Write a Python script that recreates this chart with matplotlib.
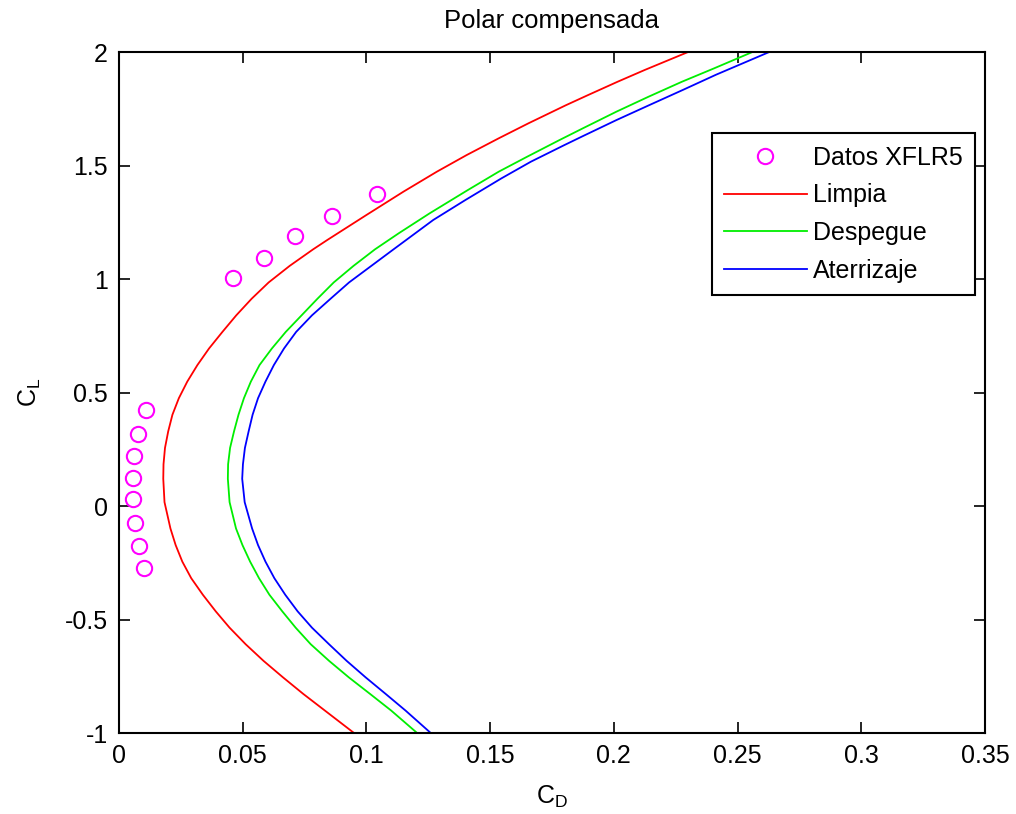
import matplotlib
matplotlib.use("Agg")
import matplotlib.pyplot as plt

# XFLR5 points
xflr_cd = [0.0109, 0.0077, 0.0061, 0.0057, 0.0057, 0.0065, 0.0081, 0.0101,
           0.0461, 0.0586, 0.0711, 0.0861, 0.1043]
xflr_cl = [0.423, 0.317, 0.220, 0.123, 0.031, -0.075, -0.176, -0.273,
           1.004, 1.0925, 1.189, 1.278, 1.374]

# polars
limpia_cl = [-1.0, -0.901, -0.828, -0.755, -0.682, -0.609, -0.536, -0.464, -0.391, -0.318,
             -0.245, -0.172, -0.099, 0.017, 0.12, 0.184, 0.256, 0.329, 0.402, 0.475,
             0.548, 0.621, 0.694, 0.767, 0.84, 0.913, 0.985, 1.058, 1.131, 1.172,
             1.282, 1.385, 1.473, 1.546, 1.62, 1.686, 1.765, 1.81, 1.869, 1.921, 2.0]
limpia_cd = [0.0950, 0.0832, 0.0745, 0.0663, 0.0584, 0.0512, 0.0447, 0.0391, 0.0339, 0.0292,
             0.0256, 0.0229, 0.0208, 0.0184, 0.0179, 0.0180, 0.0186, 0.0199, 0.0216, 0.0242,
             0.0276, 0.0317, 0.0364, 0.0418, 0.0474, 0.0536, 0.0605, 0.0690, 0.0785, 0.0842,
             0.1000, 0.1150, 0.1285, 0.1405, 0.1535, 0.1655, 0.1805, 0.1895, 0.2015, 0.2125, 0.2300]

despegue_cl = [-1.0, -0.901, -0.828, -0.755, -0.682, -0.609, -0.536, -0.464, -0.391, -0.318,
               -0.245, -0.172, -0.099, 0.017, 0.12, 0.184, 0.256, 0.329, 0.402, 0.475,
               0.548, 0.621, 0.694, 0.767, 0.84, 0.913, 0.985, 1.058, 1.131, 1.201,
               1.289, 1.392, 1.473, 1.539, 1.612, 1.664, 1.737, 1.803, 1.869, 1.928, 2.0]
despegue_cd = [0.1205, 0.1100, 0.1015, 0.0929, 0.0849, 0.0775, 0.0714, 0.0660, 0.0608, 0.0566,
               0.0530, 0.0499, 0.0473, 0.0447, 0.0440, 0.0441, 0.0449, 0.0465, 0.0483, 0.0505,
               0.0533, 0.0568, 0.0618, 0.0674, 0.0738, 0.0802, 0.0868, 0.0948, 0.1035, 0.1130,
               0.1255, 0.1410, 0.1535, 0.1650, 0.1780, 0.1875, 0.2010, 0.2140, 0.2275, 0.2405, 0.2560]

aterrizaje_cl = [-1.0, -0.901, -0.828, -0.755, -0.682, -0.609, -0.536, -0.464, -0.391, -0.318,
                 -0.245, -0.172, -0.099, 0.017, 0.12, 0.184, 0.256, 0.329, 0.402, 0.475,
                 0.548, 0.621, 0.694, 0.767, 0.84, 0.913, 0.985, 1.058, 1.131, 1.26,
                 1.348, 1.443, 1.517, 1.59, 1.627, 1.7, 1.767, 1.833, 1.9, 2.0]
aterrizaje_cd = [0.1260, 0.1158, 0.1078, 0.0997, 0.0920, 0.0849, 0.0780, 0.0722, 0.0672, 0.0628,
                 0.0592, 0.0562, 0.0538, 0.0508, 0.0498, 0.0501, 0.0509, 0.0524, 0.0540, 0.0562,
                 0.0592, 0.0626, 0.0667, 0.0716, 0.0780, 0.0855, 0.0930, 0.1020, 0.1110, 0.1270,
                 0.1400, 0.1545, 0.1665, 0.1800, 0.1870, 0.2010, 0.2145, 0.2279, 0.2413, 0.2628]

plt.rcParams['font.family'] = ['Liberation Sans', 'DejaVu Sans']
plt.rcParams['font.size'] = 18

fig = plt.figure(figsize=(10.16, 8.14), dpi=100)
ax = fig.add_axes([0.1171, 0.0995, 0.8524, 0.8366])

ax.plot(xflr_cd, xflr_cl, 'o', markerfacecolor='none', markeredgecolor='#ff00ff',
        markersize=11, markeredgewidth=1.5, label='Datos XFLR5')
ax.plot(limpia_cd, limpia_cl, '-', color='#ff0000', linewidth=1.3, label='Limpia')
ax.plot(despegue_cd, despegue_cl, '-', color='#00ee00', linewidth=1.3, label='Despegue')
ax.plot(aterrizaje_cd, aterrizaje_cl, '-', color='#0000ff', linewidth=1.3, label='Aterrizaje')

ax.set_xlim(0, 0.35)
ax.set_ylim(-1, 2)
ax.set_xticks([0, 0.05, 0.1, 0.15, 0.2, 0.25, 0.3, 0.35])
ax.set_xticklabels(['0', '0.05', '0.1', '0.15', '0.2', '0.25', '0.3', '0.35'])
ax.set_yticks([-1, -0.5, 0, 0.5, 1, 1.5, 2])
ax.set_yticklabels(['-1', '-0.5', '0', '0.5', '1', '1.5', '2'])
ax.tick_params(direction='in', length=8, width=1.2, top=True, right=True, pad=8)
for s in ax.spines.values():
    s.set_linewidth(1.5)

ax.set_xlabel(r'$\mathregular{C_D}$', fontsize=18, labelpad=11)
ax.set_ylabel(r'$\mathregular{C_L}$', fontsize=18, labelpad=16)
ax.set_title('Polar compensada', fontsize=18.5, pad=17)

leg = ax.legend(loc='upper right', bbox_to_anchor=(0.9885, 0.881), borderaxespad=0,
                fancybox=False, edgecolor='black', framealpha=1, fontsize=18,
                handlelength=3.3, labelspacing=0.55, handletextpad=0.25,
                borderpad=0.5)
leg.get_frame().set_linewidth(1.5)

fig.savefig('out.png', dpi=100)
